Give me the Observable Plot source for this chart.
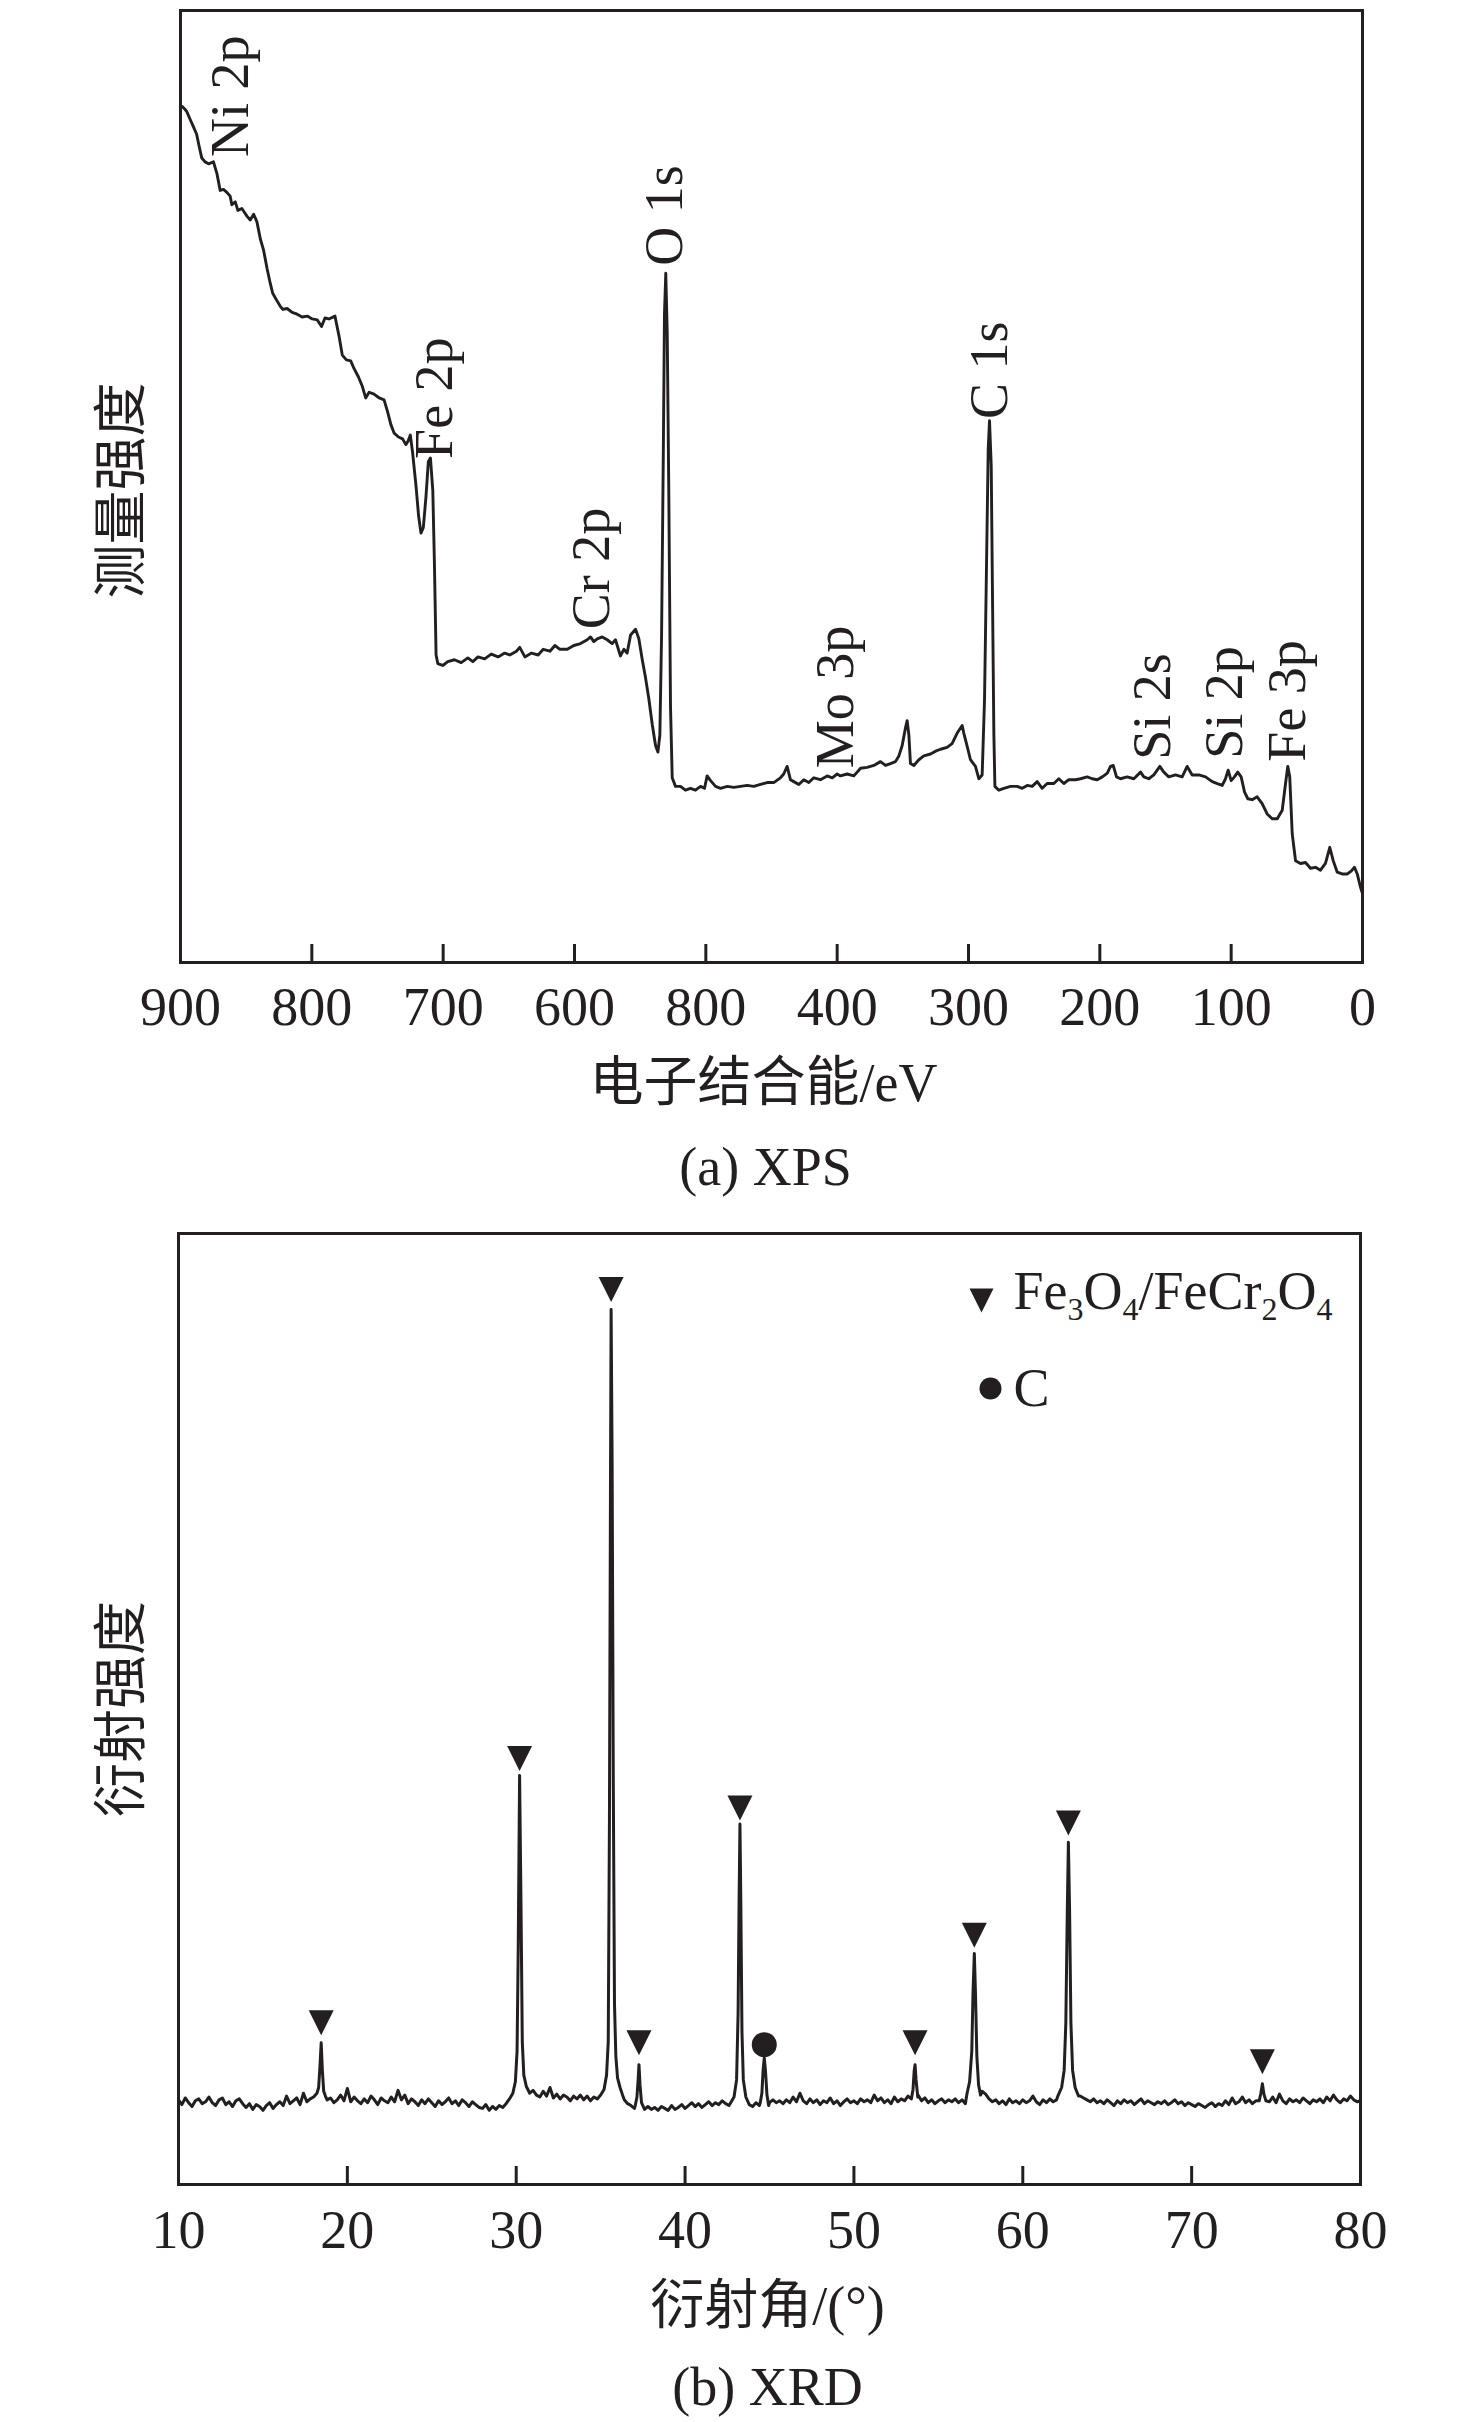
<!DOCTYPE html>
<html>
<head>
<meta charset="utf-8">
<script src="https://cdn.jsdelivr.net/npm/d3@7"></script>
<script src="https://cdn.jsdelivr.net/npm/@observablehq/plot@0.6"></script>
<style>
html, body { margin: 0; padding: 0; background: #ffffff; }
#chart { width: 1476px; }
#chart svg { display: block; }
</style>
</head>
<body>
<div id="chart"></div>
<script>
// ---------------- (a) XPS ----------------
const xpsTicks = [900, 800, 700, 600, 500, 400, 300, 200, 100, 0];
const xpsTickLabels = ["900", "800", "700", "600", "800", "400", "300", "200", "100", "0"];
const xpsXTitle = "电子结合能/eV";
const xpsYTitle = "测量强度";
const xpsCaption = "(a) XPS";

const xpsPeakNames = ["Ni 2p", "Fe 2p", "Cr 2p", "O 1s", "Mo 3p", "C 1s", "Si 2s", "Si 2p", "Fe 3p"];
const xpsPeakEnergy = [862, 706.8, 587, 531.5, 401, 284, 159.5, 105, 57.3];
const xpsPeakLabelBase = [84.6, 52.9, 35.0, 73.2, 20.4, 57.1, 21.3, 21.4, 21.1];

// [binding energy (eV), intensity (a.u.)]
const xpsSpectrum = [
[898.5,89.9],[896.5,89.6],[895.3,89.4],[892.8,88.6],[890.2,87.8],[887.7,87.0],[885.9,85.8],[883.8,84.5],
[881.3,84.1],[878.7,83.9],[874.9,84.1],[872.3,82.9],[869.8,81.1],[867.3,81.2],[864.7,80.9],[862.2,80.5],
[860.9,79.6],[858.3,79.9],[856.3,79.0],[853.3,79.2],[849.4,78.4],[846.9,78.0],[844.3,78.6],[841.8,77.8],
[839.2,76.0],[836.7,74.8],[834.1,72.9],[831.6,71.3],[829.8,70.3],[826.5,69.5],[823.9,68.9],[822.1,68.6],
[818.8,68.7],[815.0,68.3],[811.2,68.1],[807.4,67.8],[803.5,67.9],[799.7,67.6],[795.9,67.5],[792.6,66.8],
[790.0,67.7],[787.0,67.6],[782.4,67.9],[779.3,65.8],[776.8,63.8],[773.7,63.3],[770.4,63.2],[767.9,62.4],
[764.5,61.5],[761.5,60.5],[759.0,59.3],[756.4,59.9],[752.6,59.7],[748.7,59.3],[745.0,59.1],[742.4,57.9],
[739.8,56.5],[737.3,55.6],[734.0,55.2],[730.9,55.0],[728.4,54.4],[726.6,54.8],[725.0,55.4],[723.3,53.6],
[720.7,50.1],[718.7,46.9],[716.9,45.1],[715.1,45.7],[713.1,48.9],[711.3,52.6],[709.7,53.0],[707.9,49.6],
[706.7,42.2],[705.4,32.3],[704.1,31.4],[700.3,31.2],[696.5,31.6],[691.4,31.8],[686.3,31.5],[681.2,32.0],
[677.4,31.6],[673.5,32.1],[668.4,31.9],[663.4,32.4],[658.2,32.1],[653.1,32.5],[649.3,32.3],[644.2,32.7],
[641.7,33.1],[637.8,32.1],[632.7,32.5],[627.7,32.3],[623.8,32.9],[618.7,32.7],[614.9,33.3],[611.1,32.9],
[605.5,32.9],[600.5,33.3],[595.4,33.5],[590.3,33.9],[587.8,34.2],[585.3,33.7],[582.7,34.0],[578.9,34.2],
[575.1,33.9],[571.3,33.5],[568.8,33.9],[565.0,32.2],[562.4,32.9],[559.9,32.5],[557.3,34.4],[553.5,35.0],
[551.0,34.0],[548.4,31.8],[545.9,29.9],[543.4,27.7],[540.8,25.0],[538.3,22.8],[536.5,22.1],[535.0,23.9],
[533.7,34.4],[532.4,53.1],[531.5,68.1],[530.5,72.4],[529.4,66.2],[528.2,49.4],[526.9,26.9],[525.6,19.4],
[523.1,18.5],[519.3,18.5],[515.5,18.1],[511.7,18.3],[507.9,18.1],[504.0,18.5],[501.0,18.3],[499.0,19.6],
[496.4,19.1],[492.6,18.5],[488.8,18.3],[483.7,18.5],[478.7,18.4],[473.6,18.5],[468.5,18.6],[463.5,18.5],
[458.4,18.7],[453.3,18.9],[448.3,18.9],[443.2,19.4],[440.7,19.8],[438.1,20.6],[435.6,19.2],[433.0,19.0],
[429.2,18.7],[425.4,19.2],[421.6,18.9],[417.8,19.4],[412.7,19.2],[407.6,19.6],[403.8,19.4],[400.0,19.8],
[397.5,19.6],[392.4,19.8],[387.3,19.6],[382.2,20.4],[377.2,20.5],[372.1,20.7],[367.0,21.1],[363.2,20.7],
[359.4,20.9],[355.6,21.1],[353.0,21.7],[350.5,22.8],[347.9,24.7],[346.7,25.4],[345.4,23.9],[344.2,20.9],
[341.6,20.7],[337.8,21.3],[334.0,21.7],[328.9,21.9],[325.1,22.2],[321.3,22.4],[316.3,22.6],[312.5,23.0],
[308.6,24.1],[304.8,24.9],[303.6,24.1],[301.0,22.7],[298.5,21.3],[294.7,20.6],[292.1,19.3],[289.6,19.7],
[287.8,27.6],[286.3,41.6],[285.0,53.9],[284.0,56.9],[282.7,52.2],[281.7,38.1],[280.7,24.1],[279.9,18.5],
[276.9,18.1],[273.1,18.3],[268.0,18.5],[262.9,18.5],[259.1,18.3],[255.3,18.6],[251.5,18.5],[247.7,19.0],
[243.9,18.3],[240.1,18.8],[235.0,18.8],[231.2,19.3],[227.4,18.8],[223.6,19.2],[218.5,19.2],[214.7,19.3],
[209.6,19.5],[205.8,19.3],[202.0,19.2],[198.1,19.5],[194.3,19.9],[191.9,20.6],[189.8,20.7],[187.3,19.5],
[184.3,19.3],[179.2,19.5],[174.1,19.3],[169.0,20.0],[166.5,19.5],[162.7,19.3],[158.9,19.7],[154.3,20.6],
[151.3,20.0],[147.5,19.5],[142.4,19.7],[137.3,19.5],[133.5,20.6],[129.7,19.7],[124.6,19.7],[119.5,19.5],
[114.4,19.0],[110.6,18.8],[106.8,18.6],[104.3,19.3],[102.3,20.2],[100.0,19.1],[97.5,19.5],[95.0,20.0],
[92.4,19.5],[89.8,17.9],[87.3,17.2],[84.0,17.1],[80.2,17.4],[76.4,16.7],[72.6,15.6],[68.8,15.1],
[64.9,15.1],[61.1,16.0],[58.6,18.8],[56.9,20.6],[55.4,19.5],[53.5,13.5],[51.0,10.7],[47.2,10.4],
[43.4,10.5],[39.6,9.9],[35.8,10.0],[32.0,9.7],[28.2,10.4],[24.9,12.1],[22.3,10.7],[19.3,9.5],
[15.5,9.3],[11.7,9.3],[8.6,9.6],[6.1,10.0],[4.0,9.3],[1.5,7.9],[0.4,7.4]
];

// ---------------- (b) XRD ----------------
const xrdTicks = [10, 20, 30, 40, 50, 60, 70, 80];
const xrdTickLabels = ["10", "20", "30", "40", "50", "60", "70", "80"];
const xrdXTitle = "衍射角/(°)";
const xrdYTitle = "衍射强度";
const xrdCaption = "(b) XRD";
const xrdLegendLabels = ["Fe3O4/FeCr2O4", "C"];

// background intensity sampled every 0.2° from 10° to 80°
const xrdBaselineStart = 10;
const xrdBaselineStep = 0.2;
const xrdBaseline = [
8.9,8.4,9.1,8.6,8.2,8.8,9.0,8.5,8.7,9.2,
8.6,8.3,8.9,9.1,8.4,8.7,8.2,8.8,9.0,8.5,
8.1,8.5,7.9,8.4,8.2,7.8,8.3,8.6,8.0,8.4,
8.7,8.3,9.3,8.5,8.8,9.1,8.4,9.6,8.7,9.0,
9.2,9.6,9.9,9.4,8.9,9.1,8.6,8.9,9.4,8.8,
10.1,8.7,9.2,8.8,8.5,9.0,8.6,9.3,8.9,8.4,
9.1,8.8,8.6,9.2,8.7,9.9,8.9,9.4,8.5,9.0,
8.7,8.3,8.9,8.5,9.0,8.6,8.2,8.8,8.4,8.7,
9.1,8.5,8.8,8.3,8.9,8.6,8.2,8.7,8.4,8.1,
8.0,8.4,7.8,8.2,7.9,8.3,8.1,8.5,8.3,8.9,
9.5,9.4,9.3,9.2,9.5,9.9,9.4,9.2,9.8,9.3,
10.2,9.1,9.5,9.0,9.4,9.2,8.8,9.3,9.0,9.4,
8.9,9.3,8.8,9.2,9.0,9.5,9.1,9.4,9.6,9.8,
10.0,9.4,8.9,8.5,8.3,8.0,8.2,8.0,7.9,8.2,
7.9,8.1,7.8,8.2,8.0,7.8,8.3,7.9,8.1,8.4,
8.0,8.3,8.6,8.2,8.5,8.1,8.4,8.7,8.3,8.6,
8.4,8.8,8.5,8.3,8.7,8.6,8.9,9.0,8.6,8.4,
8.2,8.6,8.3,8.5,8.4,8.6,8.9,8.6,8.8,8.5,
8.9,8.6,9.2,8.7,9.6,8.8,8.5,9.0,8.6,8.9,
8.4,8.8,8.6,9.1,8.5,8.8,8.3,8.7,9.0,8.6,
8.8,8.5,9.0,8.7,8.9,8.6,9.4,8.8,9.1,8.6,
8.9,8.5,9.2,8.7,9.0,8.8,9.3,8.9,9.1,9.4,
8.8,9.1,8.6,8.9,8.5,8.8,9.0,8.6,8.9,8.7,
9.0,8.6,8.9,8.5,9.1,8.8,9.4,9.6,9.8,9.5,
9.0,8.7,8.9,8.5,8.8,8.4,9.0,8.6,8.8,8.5,
8.9,8.6,8.8,9.3,8.7,8.4,8.9,8.6,9.0,8.7,
8.9,9.2,9.6,9.8,9.5,9.9,9.6,9.3,9.1,8.9,
8.7,9.0,8.6,8.8,8.5,8.9,8.6,8.3,8.8,8.5,
8.9,8.6,8.8,8.4,8.7,9.0,8.5,8.8,8.6,8.4,
8.7,8.5,8.8,8.4,8.6,8.9,8.5,8.7,8.3,8.6,
8.4,8.2,8.5,8.3,8.1,8.4,8.6,8.2,8.5,8.3,
8.8,8.4,9.1,8.5,8.7,9.2,8.6,8.9,8.5,8.8,
8.6,9.0,8.9,8.7,9.2,8.6,9.5,8.8,8.5,9.0,
8.7,8.9,8.6,9.1,8.8,8.5,8.9,8.7,9.0,8.6,
9.2,8.8,9.4,8.9,8.6,9.0,8.8,9.3,8.9,8.7,
8.8
];

// diffraction peaks, [angle (°), intensity]
const xrdPeaks = [
  [[18.2,9.6],[18.3,10.2],[18.38,12.5],[18.45,14.9],[18.52,12.0],[18.6,9.8],[18.7,9.3]],
  [[29.6,9.0],[29.8,9.6],[29.95,10.8],[30.05,14.0],[30.12,25.0],[30.2,43.0],[30.28,30.0],[30.36,15.0],[30.45,11.5],[30.6,10.3],[30.8,9.6]],
  [[35.0,9.4],[35.2,10.0],[35.35,11.5],[35.45,15.0],[35.52,38.0],[35.58,72.0],[35.62,92.0],[35.68,76.0],[35.75,42.0],[35.82,19.0],[35.9,13.5],[36.0,11.2],[36.15,10.2],[36.3,9.4]],
  [[37.05,8.3],[37.15,9.2],[37.22,11.0],[37.27,12.6],[37.33,10.5],[37.42,8.6]],
  [[42.7,8.6],[42.9,9.2],[43.05,11.0],[43.14,18.0],[43.2,30.0],[43.25,37.9],[43.3,30.0],[43.37,16.0],[43.45,11.0],[43.6,9.2]],
  [[44.45,8.6],[44.55,9.6],[44.62,12.0],[44.69,13.3],[44.76,12.0],[44.85,9.4],[44.95,8.3]],
  [[53.4,9.0],[53.5,10.0],[53.57,12.0],[53.62,12.6],[53.68,11.0],[53.78,9.2]],
  [[56.7,9.6],[56.85,10.8],[56.98,14.0],[57.05,20.0],[57.13,24.3],[57.2,20.0],[57.28,13.5],[57.38,10.5],[57.5,9.4]],
  [[62.1,9.4],[62.3,10.2],[62.45,12.0],[62.55,17.0],[62.63,28.0],[62.7,36.0],[62.77,29.0],[62.85,17.0],[62.95,12.0],[63.1,10.2],[63.3,9.3]],
  [[74.0,8.8],[74.1,9.6],[74.19,10.6],[74.28,9.5],[74.4,8.8]]
];

// phase markers
const spinelAngles = [18.45, 30.2, 35.62, 37.27, 43.25, 53.62, 57.13, 62.7, 74.19];
const spinelMarkerLevel = [17.0, 44.8, 94.1, 14.9, 39.6, 14.9, 26.2, 38.0, 12.9];
const carbonAngles = [44.69];
const carbonMarkerLevel = [14.7];

// ---------------- drawing ----------------
const FONT = '"Liberation Serif", "Times New Roman", "Noto Sans CJK SC", serif';
const INK = "#231f20";
const FS = 54;

const downTriangle = {
  draw(context, size) {
    const s = Math.sqrt(size / Math.PI);
    context.moveTo(-s, -s);
    context.lineTo(s, -s);
    context.lineTo(0, s);
    context.closePath();
  }
};

const style = {fontFamily: FONT, fontSize: FS + "px", color: INK, background: "#ffffff", overflow: "visible"};

// XPS panel
const xpsLabels = xpsPeakNames.map((name, i) => ({name, e: xpsPeakEnergy[i], v: xpsPeakLabelBase[i]}));
const xps = Plot.plot({
  width: 1476, height: 1210,
  marginTop: 10, marginBottom: 248, marginLeft: 180, marginRight: 114,
  style,
  x: {domain: [900, 0], axis: null},
  y: {domain: [0, 100], axis: null},
  marks: [
    Plot.line(xpsSpectrum, {x: d => d[0], y: d => d[1], stroke: INK, strokeWidth: 2.9, strokeLinejoin: "round"}),
    Plot.tickX(xpsTicks, {x: d => d, stroke: INK, strokeWidth: 3, insetTop: 934}),
    Plot.frame({stroke: INK, strokeWidth: 3}),
    Plot.text(xpsTicks, {x: d => d, frameAnchor: "bottom", dy: 45, text: (d, i) => xpsTickLabels[i], lineAnchor: "middle", fontSize: FS, fill: INK}),
    Plot.text(xpsLabels, {x: "e", y: "v", text: "name", rotate: -90, textAnchor: "start", lineAnchor: "middle", fontSize: FS, fill: INK}),
    Plot.text([xpsXTitle], {frameAnchor: "bottom", dx: -8, dy: 121, textAnchor: "middle", lineAnchor: "middle", fontSize: FS, fill: INK}),
    Plot.text([xpsCaption], {frameAnchor: "bottom", dx: -6, dy: 205, textAnchor: "middle", lineAnchor: "middle", fontSize: FS, fill: INK}),
    Plot.text([xpsYTitle], {frameAnchor: "left", dx: -58, dy: 4, rotate: -90, textAnchor: "middle", lineAnchor: "middle", fontSize: FS, fill: INK})
  ]
});

// XRD panel
const peakWindows = xrdPeaks.map(p => [p[0][0], p[p.length - 1][0]]);
const xrdPoints = [];
xrdBaseline.forEach((v, i) => {
  const a = Math.round((xrdBaselineStart + i * xrdBaselineStep) * 100) / 100;
  if (!peakWindows.some(([lo, hi]) => a >= lo && a <= hi)) xrdPoints.push([a, v]);
});
xrdPeaks.forEach(p => p.forEach(pt => xrdPoints.push(pt)));
xrdPoints.sort((a, b) => a[0] - b[0]);

const spinelMarks = spinelAngles.map((a, i) => ({a, v: spinelMarkerLevel[i]}));
const carbonMarks = carbonAngles.map((a, i) => ({a, v: carbonMarkerLevel[i]}));

const xrd = Plot.plot({
  width: 1476, height: 1212,
  marginTop: 23, marginBottom: 238, marginLeft: 178, marginRight: 116,
  style,
  x: {domain: [10, 80], axis: null},
  y: {domain: [0, 100], axis: null},
  marks: [
    Plot.line(xrdPoints, {x: d => d[0], y: d => d[1], stroke: INK, strokeWidth: 3, strokeLinejoin: "round"}),
    Plot.dot(spinelMarks, {x: "a", y: "v", r: 12.5, symbol: downTriangle, fill: INK, stroke: "none"}),
    Plot.dot(carbonMarks, {x: "a", y: "v", r: 12.5, fill: INK, stroke: "none"}),
    Plot.tickX(xrdTicks, {x: d => d, stroke: INK, strokeWidth: 3, insetTop: 933}),
    Plot.frame({stroke: INK, strokeWidth: 3}),
    Plot.text(xrdTicks, {x: d => d, frameAnchor: "bottom", dy: 46, text: (d, i) => xrdTickLabels[i], lineAnchor: "middle", fontSize: FS, fill: INK}),
    Plot.text([xrdXTitle], {frameAnchor: "bottom", dx: -2, dy: 122, textAnchor: "middle", lineAnchor: "middle", fontSize: FS, fill: INK}),
    Plot.text([xrdCaption], {frameAnchor: "bottom", dx: -2, dy: 203, textAnchor: "middle", lineAnchor: "middle", fontSize: FS, fill: INK}),
    Plot.text([xrdYTitle], {frameAnchor: "left", dx: -56, dy: 0, rotate: -90, textAnchor: "middle", lineAnchor: "middle", fontSize: FS, fill: INK}),
    // legend
    Plot.dot([0], {frameAnchor: "top-right", dx: -379, dy: 67, r: 12, symbol: downTriangle, fill: INK, stroke: "none"}),
    Plot.dot([0], {frameAnchor: "top-right", dx: -370, dy: 155, r: 11, fill: INK, stroke: "none"}),
    Plot.text([xrdLegendLabels[0]], {frameAnchor: "top-right", dx: -347, dy: 58, textAnchor: "start", lineAnchor: "middle", fontSize: FS, fill: INK}),
    Plot.text([xrdLegendLabels[1]], {frameAnchor: "top-right", dx: -347, dy: 155, textAnchor: "start", lineAnchor: "middle", fontSize: FS, fill: INK})
  ]
});

// chemical formula subscripts
d3.select(xrd).selectAll("text").filter(function () { return this.textContent === xrdLegendLabels[0]; }).each(function () {
  const t = d3.select(this);
  const label = this.textContent;
  t.text(null);
  let shifted = false;
  (label.match(/\d+|\D+/g) || []).forEach(seg => {
    const isSub = /^\d+$/.test(seg);
    const ts = t.append("tspan").text(seg);
    if (isSub) {
      ts.attr("font-size", 32);
      if (!shifted) { ts.attr("dy", 11); shifted = true; }
    } else if (shifted) {
      ts.attr("dy", -11); shifted = false;
    }
  });
});

document.getElementById("chart").append(xps, xrd);
</script>
</body>
</html>
